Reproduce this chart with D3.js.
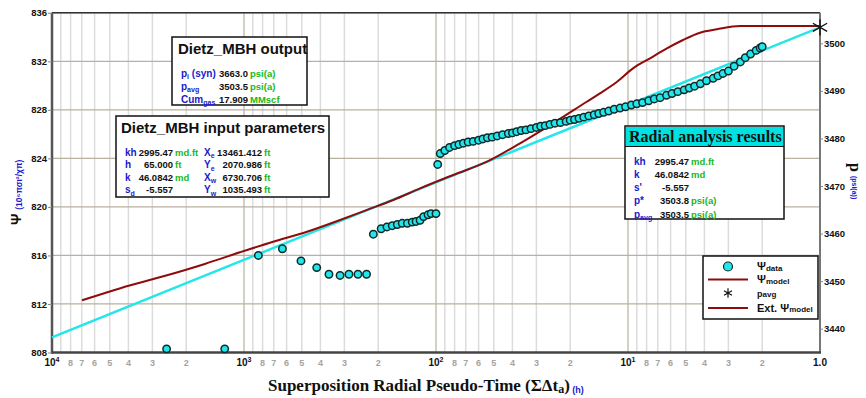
<!DOCTYPE html>
<html>
<head>
<meta charset="utf-8">
<script src="https://cdn.jsdelivr.net/npm/d3@7"></script>
<style>
  body { margin: 0; background: #fff; }
  svg { display: block; font-family: "Liberation Sans", Arial, sans-serif; }
</style>
</head>
<body>
<div id="chart"></div>
<script>
// psi data: superposition time (h) and psi (10^6 psi^2/cp)
const psiTime = [2530, 1260, 842, 631, 505, 418, 361, 316, 284, 255, 230, 212, 193, 180, 169, 159, 150, 141, 133, 127, 121, 116, 110, 106, 100, 98,
  95, 90, 85, 80, 76, 72, 68, 64, 60, 57, 54, 51, 48, 45, 42, 40, 38, 36, 34, 32, 30, 28.5, 27, 25.5, 24, 22.5, 21, 20, 19, 18,
  17, 16, 15, 14.2, 13.4, 12.6, 11.8, 11, 10.3, 9.6, 9, 8.4, 7.8, 7.3, 6.8, 6.3, 5.9, 5.5, 5.1, 4.8, 4.5, 4.2, 3.9, 3.6, 3.4,
  3.2, 3.0, 2.8, 2.6, 2.45, 2.3, 2.15, 2.05, 2.0];
const psiValue = [808.3, 808.3, 816.0, 816.55, 815.55, 815.0, 814.45, 814.35, 814.45, 814.45, 814.45, 817.75, 818.2, 818.35, 818.45, 818.55, 818.65, 818.65, 818.75, 818.8, 818.9, 819.2, 819.35, 819.45, 819.45, 823.5,
  824.4, 824.65, 824.9, 825.05, 825.15, 825.25, 825.35, 825.4, 825.5, 825.6, 825.7, 825.75, 825.85, 825.95, 826.05, 826.1, 826.2, 826.3, 826.35, 826.45,
  826.55, 826.65, 826.7, 826.8, 826.9, 826.95, 827.05, 827.15, 827.2, 827.3, 827.4, 827.5, 827.6, 827.7, 827.8, 827.9, 828.05, 828.15, 828.25, 828.4,
  828.5, 828.6, 828.75, 828.9, 829.0, 829.2, 829.35, 829.5, 829.65, 829.8, 829.95, 830.15, 830.4, 830.6, 830.8, 831.0, 831.2, 831.6, 831.95, 832.3,
  832.6, 832.9, 833.1, 833.2];

// psi model (dark red)
const modelTime = [6980, 4400, 2600, 1600, 1050, 706, 470, 316, 230, 167, 121, 81.5, 54.2, 36.5, 24.6, 16.4, 14, 11.4, 9.42, 7.68, 6.27, 5.17, 4.22, 3.44, 2.61, 1.89, 1];
const modelValue = [812.3, 813.3, 814.3, 815.3, 816.26, 817.13, 817.95, 818.92, 819.74, 820.57, 821.53, 822.63, 823.73, 825.24, 826.89, 828.67, 829.36, 830.32, 831.42, 832.25, 833.07, 833.76, 834.36, 834.64, 834.91, 834.92, 834.92];

// radial straight line (cyan)
const radialTime = [10000, 1];
const radialValue = [809.25, 834.8];

// p avg point
const pavgTime = [1];
const pavgValue = [834.8];

// ticks
const psiTicks = [808, 812, 816, 820, 824, 828, 832, 836];
const pTicks = [3440, 3450, 3460, 3470, 3480, 3490, 3500];
const decades = [10000, 1000, 100, 10, 1];
const decadeLabels = [["10", "4"], ["10", "3"], ["10", "2"], ["10", "1"], ["1.0", ""]];
const minorDigits = [2, 3, 4, 5, 6, 7, 8, 9];
const minorLabelDigits = [2, 3, 4, 5, 6, 7, 8];

// info boxes
const outputRows = [["p_{i} (syn)", "3663.0", "psi(a)"], ["p_{avg}", "3503.5", "psi(a)"], ["Cum_{gas}", "17.909", "MMscf"]];
const inputRowsA = [["kh", "2995.47", "md.ft"], ["h", "65.000", "ft"], ["k", "46.0842", "md"], ["s_{d}", "-5.557", ""]];
const inputRowsB = [["X_{e}", "13461.412", "ft"], ["Y_{e}", "2070.986", "ft"], ["X_{w}", "6730.706", "ft"], ["Y_{w}", "1035.493", "ft"]];
const radialRows = [["kh", "2995.47", "md.ft"], ["k", "46.0842", "md"], ["s'", "-5.557", ""], ["p*", "3503.8", "psi(a)"], ["p_{avg}", "3503.5", "psi(a)"]];
const legendItems = ["Ψ_{data}", "Ψ_{model}", "p_{avg}", "Ext. Ψ_{model}"];

const W = 866, H = 398;
const pL = 52, pR = 820, pT = 12.8, pB = 352.5;

const svg = d3.select('#chart').append('svg')
  .attr('width', W).attr('height', H);

const x = d3.scaleLog().domain([10000, 1]).range([pL, pR]);
const y = d3.scaleLinear().domain([808, 836]).range([pB, pT]);
const yR = d3.scaleLinear().domain([3440, 3500]).range([328.7, 43.3]);

const blue = '#1a1acc', green = '#18b818', cyan = '#22e6ea', red = '#8e0c0c';

// text with _{sub} parts
function rich(sel, str, size, subSize, shift) {
  const parts = str.split(/(_\{[^}]*\})/);
  let shifted = 0;
  parts.forEach(p => {
    if (!p) return;
    if (p.startsWith('_{')) {
      sel.append('tspan').attr('font-size', subSize).attr('dy', shift - shifted).text(p.slice(2, -1));
      shifted = shift;
    } else {
      sel.append('tspan').attr('font-size', size).attr('dy', -shifted).text(p);
      shifted = 0;
    }
  });
}

// grid
const minorTicks = [];
[1000, 100, 10, 1].forEach(d => minorDigits.forEach(m => minorTicks.push(d * m)));
const minorLabelTicks = [];
[1000, 100, 10, 1].forEach(d => minorLabelDigits.forEach(m => minorLabelTicks.push(d * m)));

svg.append('g').selectAll('line').data(minorTicks).join('line')
  .attr('x1', d => x(d)).attr('x2', d => x(d))
  .attr('y1', pT).attr('y2', pB)
  .attr('stroke', '#dcdcdc').attr('stroke-width', 1.5);

svg.append('g').selectAll('line').data(decades).join('line')
  .attr('x1', d => x(d)).attr('x2', d => x(d))
  .attr('y1', pT).attr('y2', pB)
  .attr('stroke', '#b9b1a0').attr('stroke-width', 1.2);

svg.append('g').selectAll('line').data(psiTicks).join('line')
  .attr('x1', pL).attr('x2', pR)
  .attr('y1', d => y(d)).attr('y2', d => y(d))
  .attr('stroke', '#b9b1a0').attr('stroke-width', 1.2);

// frame
svg.append('line').attr('x1', pL).attr('x2', pR).attr('y1', pT).attr('y2', pT)
  .attr('stroke', '#333').attr('stroke-width', 1.5);
svg.append('line').attr('x1', pR).attr('x2', pR).attr('y1', pT).attr('y2', pB)
  .attr('stroke', '#777').attr('stroke-width', 2);
svg.append('line').attr('x1', pL).attr('x2', pL).attr('y1', pT).attr('y2', pB + 1)
  .attr('stroke', '#555').attr('stroke-width', 2.5);
svg.append('line').attr('x1', pL - 1).attr('x2', pR + 1).attr('y1', pB).attr('y2', pB)
  .attr('stroke', '#444').attr('stroke-width', 2.5);

// left axis
const yAxis = svg.append('g')
  .attr('transform', 'translate(' + pL + ',0)')
  .call(d3.axisLeft(y).tickValues(psiTicks).tickSize(4).tickFormat(d3.format('d')));
yAxis.select('.domain').remove();
yAxis.selectAll('line').attr('stroke', '#888');
yAxis.selectAll('text').attr('font-size', 9.5).attr('font-weight', 'bold')
  .attr('font-family', '"Liberation Sans", Arial, sans-serif').attr('fill', '#111').attr('x', -5);

// right axis
const rAxis = svg.append('g')
  .attr('transform', 'translate(' + pR + ',0)')
  .call(d3.axisRight(yR).tickValues(pTicks).tickSize(3).tickFormat(d3.format('d')));
rAxis.select('.domain').remove();
rAxis.selectAll('line').attr('stroke', '#888');
rAxis.selectAll('text').attr('font-size', 9.5).attr('font-weight', 'bold')
  .attr('font-family', '"Liberation Sans", Arial, sans-serif').attr('fill', '#111').attr('x', 4);

// bottom axis labels
const xLab = svg.append('g');
xLab.selectAll('text.minor').data(minorLabelTicks).join('text')
  .attr('class', 'minor')
  .attr('x', d => x(d)).attr('y', 366)
  .attr('text-anchor', 'middle')
  .attr('font-size', 9).attr('font-weight', 'bold').attr('fill', '#a4a4a4')
  .text(d => String(d).charAt(0));
decades.forEach((d, i) => {
  const t = xLab.append('text')
    .attr('x', x(d)).attr('y', 366)
    .attr('text-anchor', 'middle')
    .attr('font-size', 10).attr('font-weight', 'bold').attr('fill', '#111');
  t.append('tspan').text(decadeLabels[i][0]);
  if (decadeLabels[i][1]) t.append('tspan').attr('font-size', 7).attr('dy', -4).text(decadeLabels[i][1]);
});

// axis titles
const xt = svg.append('text')
  .attr('x', 268).attr('y', 391)
  .attr('font-family', '"Liberation Serif", "Times New Roman", serif')
  .attr('font-weight', 'bold').attr('font-size', 17).attr('fill', '#111');
xt.append('tspan').text('Superposition Radial Pseudo-Time (ΣΔt');
xt.append('tspan').attr('font-size', 12).attr('dy', 2).text('a');
xt.append('tspan').attr('dy', -2).text(')');
xt.append('tspan').attr('font-family', '"Liberation Sans", Arial, sans-serif')
  .attr('font-size', 9).attr('fill', blue).attr('dy', 2).text(' (h)');

const yt = svg.append('text')
  .attr('transform', 'translate(21,225) rotate(-90)')
  .attr('font-weight', 'bold').attr('fill', '#111');
yt.append('tspan').attr('font-size', 14).text('Ψ ');
yt.append('tspan').attr('font-size', 8.5).attr('fill', blue).attr('dy', 1).text('(10⁶πσι²/χπ)');

const rt = svg.append('text')
  .attr('transform', 'translate(850,163) rotate(90)')
  .attr('font-weight', 'bold').attr('fill', '#111');
rt.append('tspan').attr('font-family', '"Liberation Serif", "Times New Roman", serif').attr('font-size', 16).text('p ');
rt.append('tspan').attr('font-size', 7).attr('fill', blue).attr('dy', -2).text('(psi(a))');

// radial line
const line = d3.line().x(d => x(d[0])).y(d => y(d[1]));
svg.append('path')
  .datum(d3.zip(radialTime, radialValue))
  .attr('d', line).attr('fill', 'none')
  .attr('stroke', cyan).attr('stroke-width', 2.5);

// model line
svg.append('path')
  .datum(d3.zip(modelTime, modelValue))
  .attr('d', line.curve(d3.curveMonotoneX)).attr('fill', 'none')
  .attr('stroke', red).attr('stroke-width', 2);

// data points
svg.append('g').selectAll('circle').data(d3.zip(psiTime, psiValue)).join('circle')
  .attr('cx', d => x(d[0])).attr('cy', d => y(d[1])).attr('r', 3.7)
  .attr('fill', cyan).attr('stroke', '#0e2a2a').attr('stroke-width', 1.5);

// p avg star
svg.append('g').selectAll('path').data(d3.zip(pavgTime, pavgValue)).join('path')
  .attr('transform', d => 'translate(' + x(d[0]) + ',' + y(d[1]) + ')')
  .attr('d', d3.symbol().type(d3.symbolAsterisk).size(190))
  .attr('fill', 'none').attr('stroke', '#111').attr('stroke-width', 1.4);

// info boxes
function box(x0, y0, w, h) {
  const g = svg.append('g').attr('transform', 'translate(' + x0 + ',' + y0 + ')');
  g.append('rect').attr('width', w).attr('height', h)
    .attr('fill', '#fff').attr('stroke', '#111').attr('stroke-width', 1.5);
  return g;
}

function rows(g, data, lx, vx, ux, y0, dy) {
  data.forEach((r, i) => {
    const yy = y0 + i * dy;
    const lt = g.append('text').attr('x', lx).attr('y', yy)
      .attr('font-weight', 'bold').attr('fill', blue);
    rich(lt, r[0], 10, 7, 2.5);
    g.append('text').attr('x', vx).attr('y', yy).attr('text-anchor', 'end')
      .attr('font-size', 9.5).attr('font-weight', 'bold').attr('fill', '#111').text(r[1]);
    g.append('text').attr('x', ux).attr('y', yy)
      .attr('font-size', 9.5).attr('font-weight', 'bold').attr('fill', green).text(r[2]);
  });
}

// Dietz_MBH output
const ob = box(172, 37, 135, 68);
ob.append('text').attr('x', 6).attr('y', 16.5)
  .attr('font-size', 15).attr('font-weight', 'bold').attr('fill', '#111').text('Dietz_MBH output');
rows(ob, outputRows, 9, 76, 78, 39.5, 13);

// Dietz_MBH input parameters
const ib = box(116, 116, 213, 81);
ib.append('text').attr('x', 5).attr('y', 17)
  .attr('font-size', 15).attr('font-weight', 'bold').attr('fill', '#111').text('Dietz_MBH input parameters');
rows(ib, inputRowsA, 9, 57, 59, 39.5, 12.5);
rows(ib, inputRowsB, 88, 146, 148, 39.5, 12.5);

// Radial analysis results
const rb = box(625, 126, 159, 93);
rb.append('rect').attr('x', 1).attr('y', 1).attr('width', 157).attr('height', 19.5).attr('fill', '#00e2e2');
rb.append('line').attr('x1', 0).attr('x2', 159).attr('y1', 20.5).attr('y2', 20.5).attr('stroke', '#111').attr('stroke-width', 1);
rb.append('text').attr('x', 4).attr('y', 15.5)
  .attr('font-family', '"Liberation Serif", "Times New Roman", serif')
  .attr('font-size', 16).attr('font-weight', 'bold').attr('fill', '#111').text('Radial analysis results');
rows(rb, radialRows, 9, 64, 66, 38.5, 13.3);

// legend
const lg = box(703, 256, 115, 63);
const ly = [10.5, 23.5, 37, 52];
lg.append('circle').attr('cx', 25).attr('cy', ly[0]).attr('r', 4.5)
  .attr('fill', cyan).attr('stroke', '#0e2a2a').attr('stroke-width', 1.2);
lg.append('line').attr('x1', 5).attr('x2', 45).attr('y1', ly[1]).attr('y2', ly[1]).attr('stroke', red).attr('stroke-width', 2);
lg.append('path').attr('transform', 'translate(25,' + ly[2] + ')')
  .attr('d', d3.symbol().type(d3.symbolAsterisk).size(60))
  .attr('fill', 'none').attr('stroke', '#111').attr('stroke-width', 1.2);
lg.append('line').attr('x1', 5).attr('x2', 45).attr('y1', ly[3]).attr('y2', ly[3]).attr('stroke', red).attr('stroke-width', 2);
legendItems.forEach((s, i) => {
  const t = lg.append('text').attr('x', 54).attr('y', ly[i] + 3.5)
    .attr('font-weight', 'bold').attr('fill', '#111');
  rich(t, s, i === 2 ? 9 : 11, 8, 0.8);
});
</script>
</body>
</html>
